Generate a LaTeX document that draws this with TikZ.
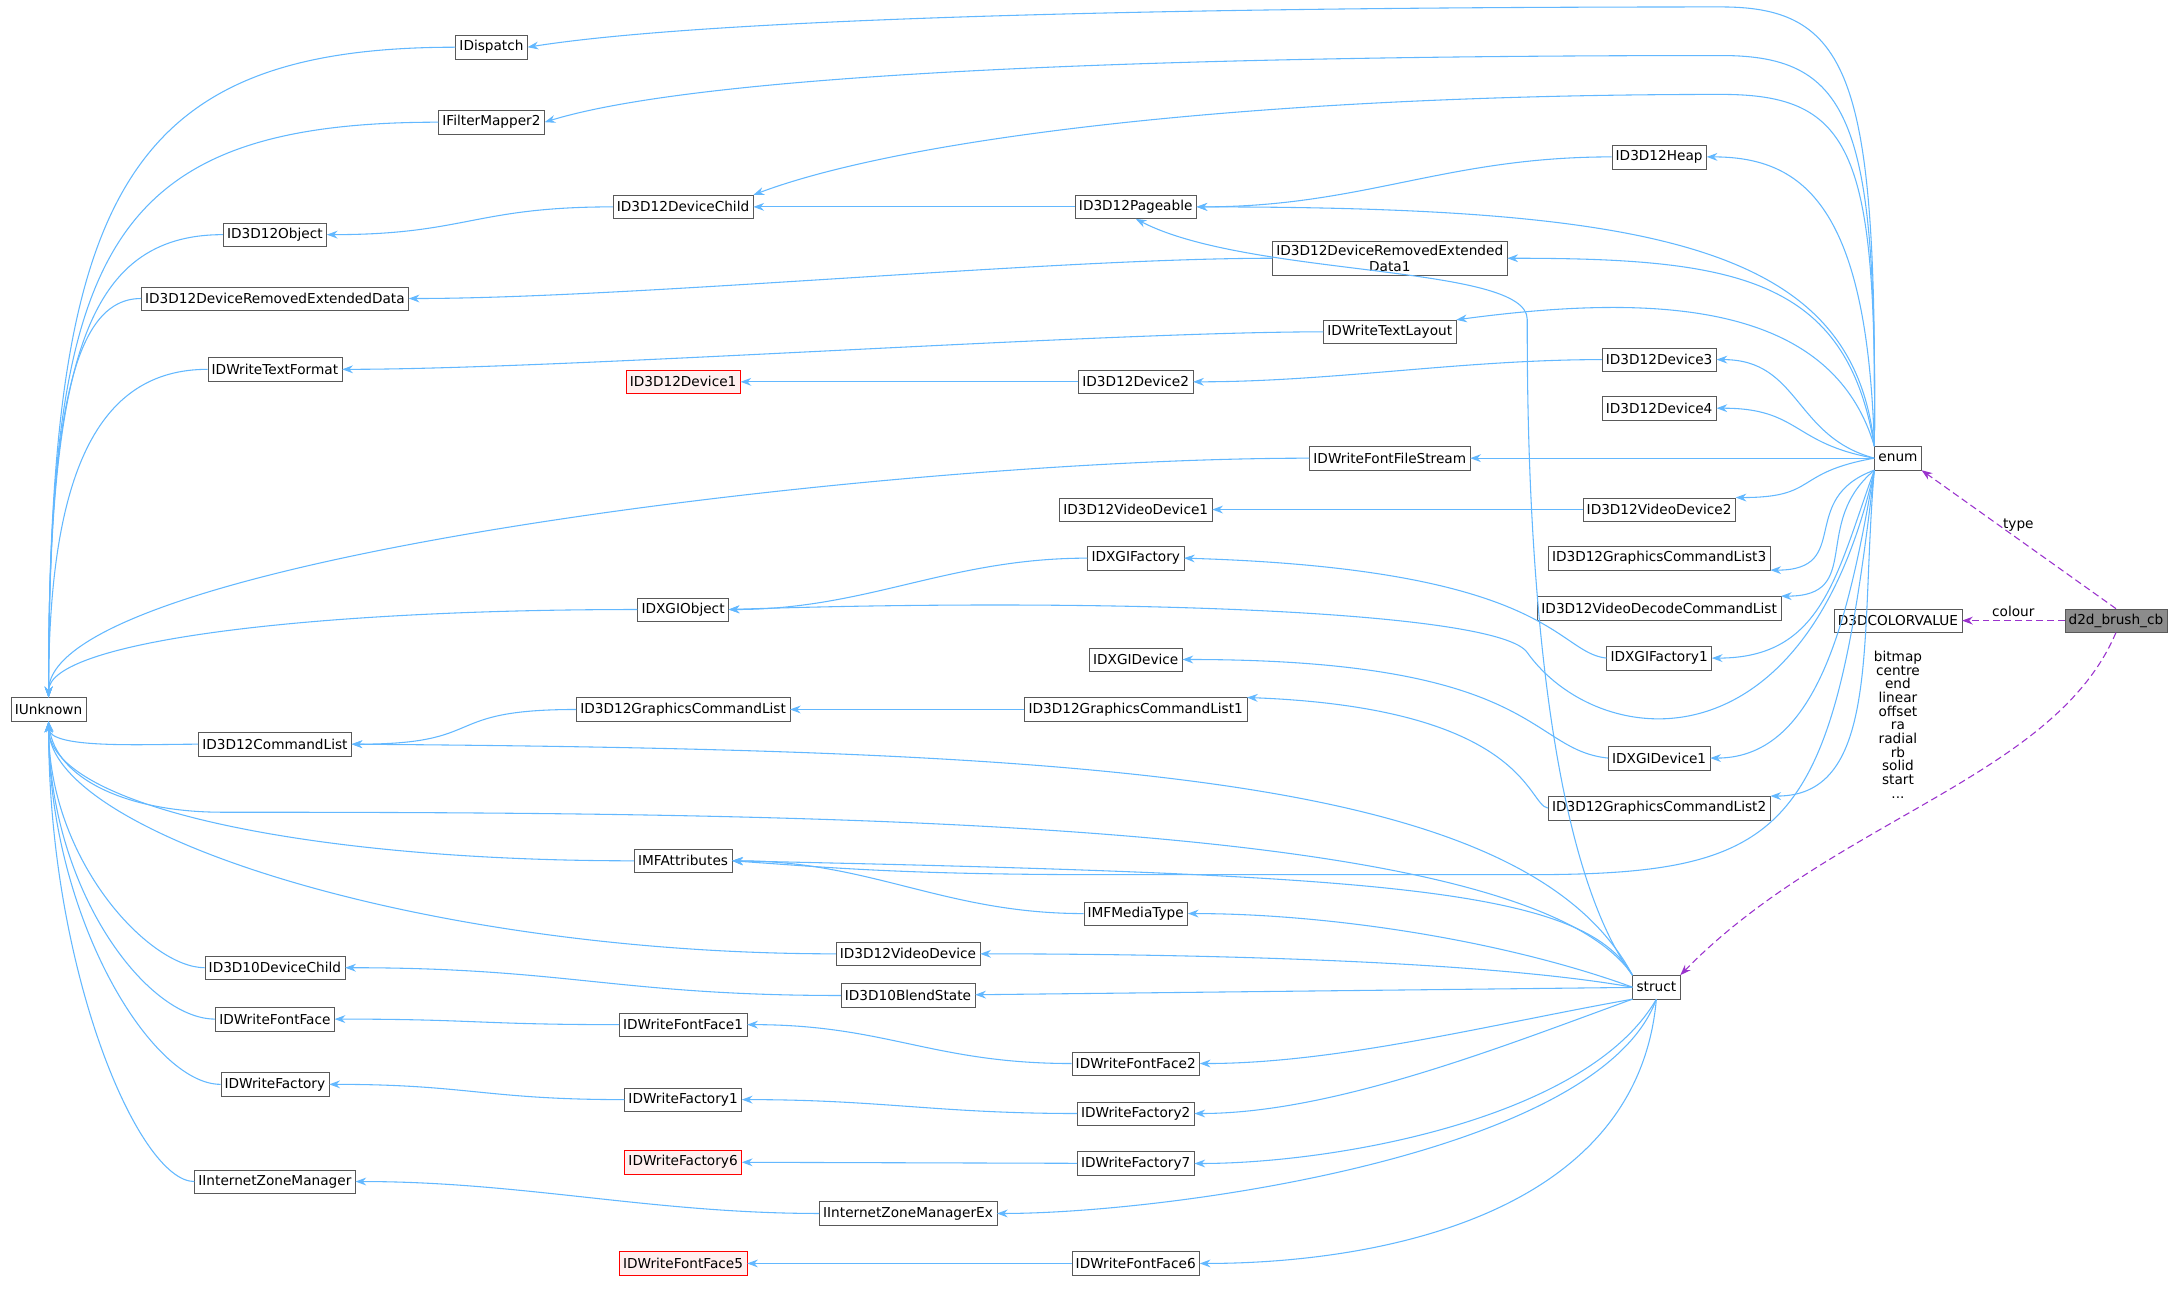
\documentclass[tikz,border=0pt]{standalone}
\usepackage{fontspec}
\setmainfont{DejaVu Sans}
\usetikzlibrary{arrows.meta}
\definecolor{inhblue}{HTML}{63B8FF}
\definecolor{usepurple}{HTML}{9A32CD}
\begin{document}
\begin{tikzpicture}[x=0.05cm,y=-0.05cm,
    box/.style={draw=black!65, fill=white, font=\fontsize{14}{16}\selectfont, inner sep=4pt, minimum height=0.85cm, align=center},
    red box/.style={box, draw=red, fill=red!6},
    inh/.style={draw=inhblue, line width=1.1pt, -{Stealth[length=11pt,width=8pt]}},
    use/.style={draw=usepurple, line width=1.1pt, dash pattern=on 7pt off 4pt, -{Stealth[length=11pt,width=8pt]}},
    lbl/.style={font=\fontsize{14}{16}\selectfont, align=center}]
    \useasboundingbox (0,0) rectangle (1568,928);
    % left column
    \node[box] (iunknown) at (35,511) {IUnknown};
    \node[box] (idispatch) at (354,34) {IDispatch};
    \node[box] (ifiltermapper) at (354,88) {IFilterMapper2};
    \node[box] (object) at (198,169) {ID3D12Object};
    \node[box] (dred) at (198,215) {ID3D12DeviceRemovedExtendedData};
    \node[box] (textformat) at (198,266) {IDWriteTextFormat};
    \node[box] (cmdlist) at (198,536) {ID3D12CommandList};
    \node[box] (d3d10child) at (198,697) {ID3D10DeviceChild};
    \node[box] (fontface) at (198,734) {IDWriteFontFace};
    \node[box] (factory) at (198,781) {IDWriteFactory};
    \node[box] (izone) at (198,851) {IInternetZoneManager};
    % second column
    \node[box] (devchild) at (492,149) {ID3D12DeviceChild};
    \node[red box] (device1) at (492,275) {ID3D12Device1};
    \node[box] (dxgiobject) at (492,439) {IDXGIObject};
    \node[box] (gcl) at (492,511) {ID3D12GraphicsCommandList};
    \node[box] (mfattr) at (492,620) {IMFAttributes};
    \node[box] (fontface1) at (492,738) {IDWriteFontFace1};
    \node[box] (factory1) at (492,792) {IDWriteFactory1};
    \node[red box] (factory6) at (492,837) {IDWriteFactory6};
    \node[red box] (fontface5) at (492,910) {IDWriteFontFace5};
    \node[box] (videodevice) at (654,687) {ID3D12VideoDevice};
    \node[box] (blendstate) at (654,717) {ID3D10BlendState};
    \node[box] (izoneex) at (654,874) {IInternetZoneManagerEx};
    % third column
    \node[box] (pageable) at (818,149) {ID3D12Pageable};
    \node[box] (device2) at (818,275) {ID3D12Device2};
    \node[box] (videodevice1) at (818,367) {ID3D12VideoDevice1};
    \node[box] (dxgifactory) at (818,402) {IDXGIFactory};
    \node[box] (dxgidevice) at (818,475) {IDXGIDevice};
    \node[box] (gcl1) at (818,511) {ID3D12GraphicsCommandList1};
    \node[box] (mfmedia) at (818,658) {IMFMediaType};
    \node[box] (fontface2) at (818,766) {IDWriteFontFace2};
    \node[box] (factory2) at (818,802) {IDWriteFactory2};
    \node[box] (factory7) at (818,838) {IDWriteFactory7};
    \node[box] (fontface6) at (818,910) {IDWriteFontFace6};
    \node[box] (dred1) at (1001,186) {ID3D12DeviceRemovedExtended\\Data1};
    \node[box] (textlayout) at (1001,239) {IDWriteTextLayout};
    \node[box] (filestream) at (1001,330) {IDWriteFontFileStream};
    % fourth column
    \node[box] (heap) at (1195,113) {ID3D12Heap};
    \node[box] (device3) at (1195,259) {ID3D12Device3};
    \node[box] (device4) at (1195,294) {ID3D12Device4};
    \node[box] (videodevice2) at (1195,367) {ID3D12VideoDevice2};
    \node[box] (gcl3) at (1195,402) {ID3D12GraphicsCommandList3};
    \node[box] (vdcl) at (1195,438) {ID3D12VideoDecodeCommandList};
    \node[box] (dxgifactory1) at (1195,474) {IDXGIFactory1};
    \node[box] (dxgidevice1) at (1195,546) {IDXGIDevice1};
    \node[box] (gcl2) at (1195,582) {ID3D12GraphicsCommandList2};
    \node[box] (struct) at (1193,711) {struct};
    \node[box] (enum) at (1367,330) {enum};
    \node[box] (colorvalue) at (1367,447) {D3DCOLORVALUE};
    \node[box, fill=black!45] (brush) at (1524,447) {d2d\_brush\_cb};
    % into IUnknown
    \foreach \nm/\la/\lb in {idispatch/12/18,ifiltermapper/12/16,object/5/12,dred/2.5/10,textformat/4/8,filestream/15/5,dxgiobject/12/2}
        \draw[inh] (\nm.west) .. controls +(180:\la cm) and +(90:\lb cm) .. (iunknown.north);
    \foreach \nm/\la/\lb in {cmdlist/2/1,mfattr/12/3,videodevice/15/4,d3d10child/2/5,fontface/2.5/6,factory/2.5/7,izone/2/9}
        \draw[inh] (\nm.west) .. controls +(180:\la cm) and +(-90:\lb cm) .. (iunknown.south);
    \draw[inh] (struct.north west) .. controls (1100,590) and (600,585) .. (160,585) .. controls (90,585) and (40,560) .. (iunknown.south);
    % straight chains
    \draw[inh] (devchild.west) .. controls +(180:5cm) and +(0:5cm) .. (object.east);
    \draw[inh] (pageable) -- (devchild);
    \draw[inh] (heap.west) .. controls +(180:6cm) and +(0:6cm) .. (pageable.east);
    \draw[inh] (dred1.west) .. controls +(180:8cm) and +(0:8cm) .. (dred.east);
    \draw[inh] (textlayout.west) .. controls +(180:8cm) and +(0:8cm) .. (textformat.east);
    \draw[inh] (device2) -- (device1);
    \draw[inh] (device3.west) .. controls +(180:5cm) and +(0:5cm) .. (device2.east);
    \draw[inh] (videodevice2) -- (videodevice1);
    \draw[inh] (dxgifactory.west) .. controls +(180:5cm) and +(0:5cm) .. (dxgiobject.east);
    \draw[inh] (dxgifactory1.west) .. controls (1120,470) and (1120,410) .. (dxgifactory.east);
    \draw[inh] (dxgidevice1.west) .. controls (1100,540) and (1110,475) .. (dxgidevice.east);
    \draw[inh] (gcl1) -- (gcl);
    \draw[inh] (gcl2.west) .. controls (1100,580) and (1100,510) .. (gcl1.north east);
    \draw[inh] (gcl.west) .. controls +(180:5cm) and +(0:5cm) .. (cmdlist.east);
    \draw[inh] (mfmedia.west) .. controls +(180:5cm) and +(0:5cm) .. (mfattr.east);
    \draw[inh] (blendstate.west) .. controls +(180:8cm) and +(0:8cm) .. (d3d10child.east);
    \draw[inh] (fontface1.west) .. controls +(180:5cm) and +(0:5cm) .. (fontface.east);
    \draw[inh] (fontface2.west) .. controls +(180:5cm) and +(0:5cm) .. (fontface1.east);
    \draw[inh] (factory1.west) .. controls +(180:5cm) and +(0:5cm) .. (factory.east);
    \draw[inh] (factory2.west) .. controls +(180:5cm) and +(0:5cm) .. (factory1.east);
    \draw[inh] (factory7) -- (factory6);
    \draw[inh] (izoneex.west) .. controls +(180:6cm) and +(0:6cm) .. (izone.east);
    \draw[inh] (fontface6) -- (fontface5);
    % from enum
    \draw[inh] (enum.north west) .. controls (1352,60) and (1335,5) .. (1240,5) .. controls (800,5) and (500,15) .. (idispatch.east);
    \draw[inh] (enum.north west) .. controls (1352,90) and (1335,40) .. (1240,40) .. controls (800,40) and (500,55) .. (ifiltermapper.east);
    \draw[inh] (enum.north west) .. controls (1352,110) and (1335,68) .. (1240,68) .. controls (900,68) and (650,100) .. (devchild.north east);
    \draw[inh] (enum.north west) .. controls (1345,150) and (1300,113) .. (heap.east);
    \draw[inh] (enum.north west) .. controls (1335,180) and (1200,149) .. (pageable.east);
    \draw[inh] (enum.north west) .. controls (1330,200) and (1250,186) .. (dred1.east);
    \draw[inh] (enum.north west) .. controls (1320,220) and (1200,210) .. (textlayout.north east);
    \draw[inh] (enum.west) .. controls +(165:3cm) and +(0:3cm) .. (device3.east);
    \draw[inh] (enum.west) .. controls +(170:3cm) and +(0:3cm) .. (device4.east);
    \draw[inh] (enum) -- (filestream);
    \draw[inh] (enum.west) .. controls +(190:3cm) and +(0:3cm) .. (videodevice2.north east);
    \draw[inh] (enum.south west) .. controls +(200:3cm) and +(0:3cm) .. (gcl3.south east);
    \draw[inh] (enum.south west) .. controls +(220:3cm) and +(0:3cm) .. (vdcl.north east);
    \draw[inh] (enum.south west) .. controls +(250:4cm) and +(0:4cm) .. (dxgifactory1.east);
    \draw[inh] (enum.south west) .. controls +(260:5cm) and +(0:4cm) .. (dxgidevice1.east);
    \draw[inh] (enum.south west) .. controls +(265:6cm) and +(0:4cm) .. (gcl2.north east);
    \draw[inh] (enum.south west) .. controls (1300,560) and (1150,540) .. (1100,470) .. controls (1080,440) and (800,430) .. (dxgiobject.east);
    \draw[inh] (enum.south west) .. controls (1320,600) and (1290,630) .. (1100,630) -- (800,630) .. controls (650,630) and (600,625) .. (mfattr.east);
    % from struct
    \draw[inh] (struct.north west) .. controls (1100,600) and (1100,300) .. (1100,230) .. controls (1100,190) and (900,200) .. (pageable.south);
    \draw[inh] (struct.north west) .. controls (1100,560) and (800,540) .. (cmdlist.east);
    \draw[inh] (struct.north west) .. controls (1140,640) and (1000,630) .. (mfattr.east);
    \draw[inh] (struct.west) .. controls +(160:5cm) and +(0:5cm) .. (mfmedia.east);
    \draw[inh] (struct.west) .. controls +(170:6cm) and +(0:6cm) .. (videodevice.east);
    \draw[inh] (struct) -- (blendstate);
    \draw[inh] (struct.south west) .. controls +(190:5cm) and +(0:5cm) .. (fontface2.east);
    \draw[inh] (struct.south west) .. controls +(200:5cm) and +(0:5cm) .. (factory2.east);
    \draw[inh] (struct.south) .. controls +(240:5cm) and +(0:5cm) .. (factory7.east);
    \draw[inh] (struct.south) .. controls +(250:6cm) and +(0:6cm) .. (izoneex.east);
    \draw[inh] (struct.south) .. controls +(265:8cm) and +(0:6cm) .. (fontface6.east);
    % usage
    \draw[use] (brush.north) -- node[lbl, right, pos=0.6] {type} (enum.south east);
    \draw[use] (brush) -- node[lbl, above] {colour} (colorvalue);
    \draw[use] (brush.south) .. controls (1480,560) and (1320,590) .. (struct.north east);
    \node[lbl, font=\fontsize{14}{14}\selectfont] (members) at (1367,522) {bitmap\\centre\\end\\linear\\offset\\ra\\radial\\rb\\solid\\start\\...};
\end{tikzpicture}
\end{document}
